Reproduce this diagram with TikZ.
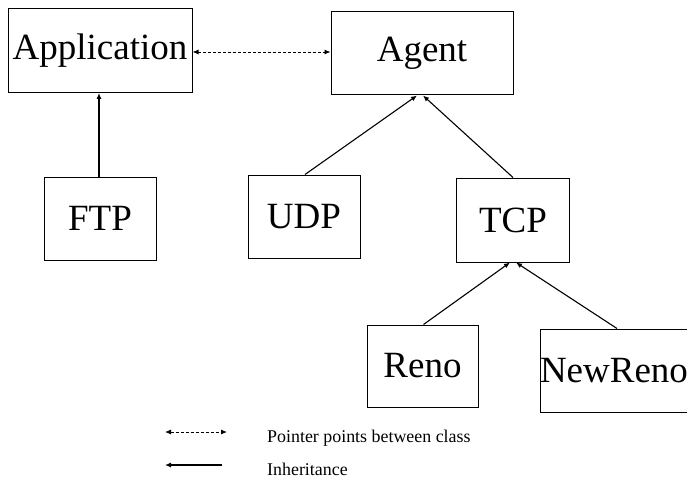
\documentclass[tikz,border=0pt]{standalone}
\usepackage{fontspec}
\setmainfont{Liberation Serif}
\usetikzlibrary{arrows.meta}
\begin{document}
\begin{tikzpicture}[x=1pt,y=-1pt,
  classbox/.style={draw,line width=1pt,rectangle,inner sep=0pt,font=\fontsize{37}{40}\selectfont},
  inherit/.style={line width=1.1pt,-{Latex[length=6pt,width=5pt]}},
  pointer/.style={line width=0.9pt,densely dashed,{Latex[length=6pt,width=5pt]}-{Latex[length=6pt,width=5pt]}},
  legendtext/.style={anchor=base west,inner sep=0pt,font=\fontsize{17.9}{21}\selectfont}]
\useasboundingbox (0,0) rectangle (687,481);
% classes
\node[classbox,minimum width=184pt,minimum height=84pt] (app) at (100,50.5) {Application};
\node[classbox,minimum width=182pt,minimum height=83pt] (agent) at (422,53.5) {Agent};
\node[classbox,minimum width=112pt,minimum height=83pt] (ftp) at (100,218.5) {FTP};
\node[classbox,minimum width=112pt,minimum height=83pt] (udp) at (304,216.5) {UDP};
\node[classbox,minimum width=113pt,minimum height=84pt] (tcp) at (513,220) {TCP};
\node[classbox,minimum width=111pt,minimum height=82pt] (reno) at (422.5,366) {Reno};
\node[classbox,minimum width=146pt,minimum height=83pt] (newreno) at (614,370.5) {NewReno};
% pointer between application and agent
\draw[pointer] ([yshift=-1.5pt]app.east) -- ([yshift=1.5pt]agent.west);
% inheritance
\draw[inherit] ([xshift=-1pt]ftp.north) -- ([xshift=-1pt]app.south);
\draw[inherit] ([xshift=1pt]udp.north) -- ([xshift=-5pt]agent.south);
\draw[inherit] (tcp.north) -- ([xshift=1pt]agent.south);
\draw[inherit] ([xshift=1pt]reno.north) -- ([xshift=-3pt]tcp.south);
\draw[inherit] ([xshift=3pt]newreno.north) -- ([xshift=3pt]tcp.south);
% legend
\coordinate (lp1) at (165,432);
\coordinate (lp2) at (227,432);
\coordinate (li1) at (165,465);
\coordinate (li2) at (222,465);
\draw[pointer] (lp1) -- (lp2);
\draw[line width=1.1pt,{Latex[length=6pt,width=5pt]}-] (li1) -- (li2);
\node[legendtext] (lpt) at (267,442) {Pointer points between class};
\node[legendtext] (lit) at (267,475) {Inheritance};
\end{tikzpicture}
\end{document}
